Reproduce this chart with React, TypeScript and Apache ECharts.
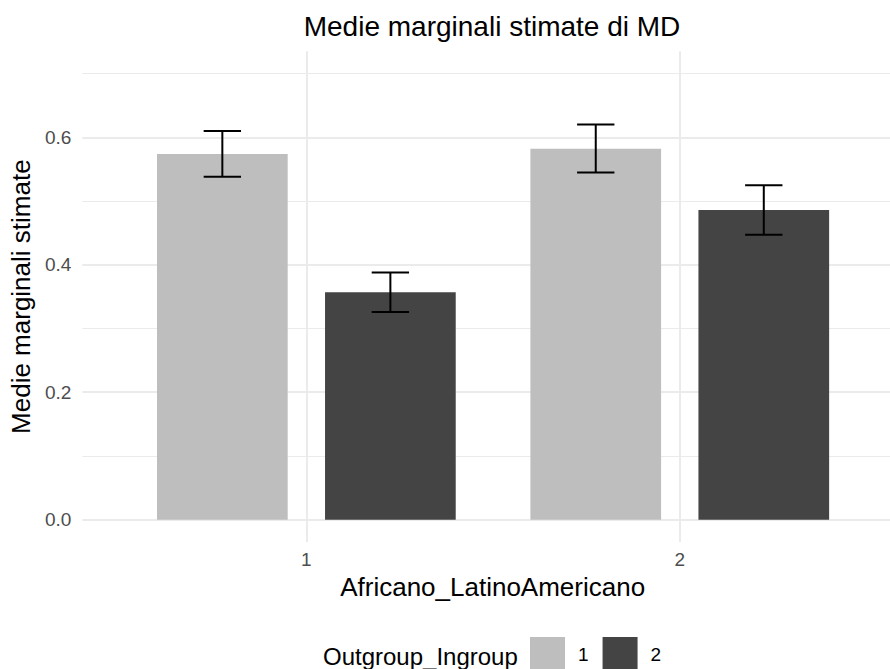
import React, { useEffect, useRef } from "react";
import * as echarts from "echarts";

const categories = ["1", "2"];
const groups = ["1", "2"];
const meanGroup1 = [0.574, 0.582];
const meanGroup2 = [0.357, 0.486];
const lowerGroup1 = [0.538, 0.545];
const upperGroup1 = [0.61, 0.62];
const lowerGroup2 = [0.326, 0.447];
const upperGroup2 = [0.388, 0.525];
const yMajorTicks = [0, 0.2, 0.4, 0.6];
const yMinorTicks = [0.1, 0.3, 0.5, 0.7];
const groupColors = ["#bebebe", "#444444"];

const titleText = "Medie marginali stimate di MD";
const xTitle = "Africano_LatinoAmericano";
const yTitle = "Medie marginali stimate";
const legendTitle = "Outgroup_Ingroup";

const DODGE = 0.225;
const BAR_HALF = 0.175;
const WHISKER_HALF = 0.05;
const FONT = "'Liberation Sans', Arial, Helvetica, sans-serif";

export default function App() {
  const ref = useRef<HTMLDivElement>(null);

  useEffect(() => {
    if (!ref.current) return;
    const chart = echarts.init(ref.current, null, { renderer: "svg" });

    const xPos = (i: number, gi: number) => i + 1 + (gi === 0 ? -DODGE : DODGE);
    const means = [meanGroup1, meanGroup2];
    const lowers = [lowerGroup1, lowerGroup2];
    const uppers = [upperGroup1, upperGroup2];

    const barSeries = groups.map((g, gi) => ({
      type: "custom",
      name: g,
      z: 3,
      itemStyle: { color: groupColors[gi] },
      encode: { x: 0, y: 1 },
      data: means[gi].map((m, i) => [xPos(i, gi), m]),
      renderItem: (_p: any, api: any) => {
        const x = api.value(0);
        const y = api.value(1);
        const a = api.coord([x - BAR_HALF, y]);
        const b = api.coord([x + BAR_HALF, 0]);
        return {
          type: "rect",
          shape: { x: a[0], y: a[1], width: b[0] - a[0], height: b[1] - a[1] },
          style: { fill: groupColors[gi] },
        };
      },
    }));

    const errSeries = groups.map((g, gi) => ({
      type: "custom",
      name: "err" + g,
      z: 4,
      encode: { x: 0, y: [1, 2] },
      data: lowers[gi].map((lo, i) => [xPos(i, gi), lo, uppers[gi][i]]),
      renderItem: (_p: any, api: any) => {
        const x = api.value(0);
        const lo = api.value(1);
        const hi = api.value(2);
        const pLo = api.coord([x, lo]);
        const pHi = api.coord([x, hi]);
        const lL = api.coord([x - WHISKER_HALF, lo]);
        const lR = api.coord([x + WHISKER_HALF, lo]);
        const hL = api.coord([x - WHISKER_HALF, hi]);
        const hR = api.coord([x + WHISKER_HALF, hi]);
        const st = { stroke: "#000000", lineWidth: 2 };
        return {
          type: "group",
          children: [
            { type: "line", shape: { x1: pLo[0], y1: pLo[1], x2: pHi[0], y2: pHi[1] }, style: st },
            { type: "line", shape: { x1: lL[0], y1: lL[1], x2: lR[0], y2: lR[1] }, style: st },
            { type: "line", shape: { x1: hL[0], y1: hL[1], x2: hR[0], y2: hR[1] }, style: st },
          ],
        };
      },
    }));

    const gridSeries = {
      type: "line",
      name: "grid",
      data: [],
      silent: true,
      z: 0,
      markLine: {
        silent: true,
        z: 0,
        symbol: ["none", "none"],
        label: { show: false },
        animation: false,
        data: [
          ...yMinorTicks.map((v) => ({ yAxis: v, lineStyle: { color: "#ebebeb", width: 1, type: "solid" } })),
          ...yMajorTicks.map((v) => ({ yAxis: v, lineStyle: { color: "#ebebeb", width: 2, type: "solid" } })),
          ...categories.map((_c, i) => ({ xAxis: i + 1, lineStyle: { color: "#ebebeb", width: 2, type: "solid" } })),
        ],
      },
    };

    chart.setOption({
      animation: false,
      textStyle: { fontFamily: FONT },
      grid: { left: 81, top: 51.3, right: 0, height: 490.7, containLabel: false },
      xAxis: {
        type: "value",
        min: 0.4,
        max: 2.563,
        splitLine: { show: false },
        axisLine: { show: false },
        axisTick: { show: false },
        axisLabel: {
          customValues: categories.map((_c, i) => i + 1),
          formatter: (v: number) => categories[Math.round(v) - 1] ?? "",
          fontSize: 19,
          color: "#4d4d4d",
          margin: 8,
          fontFamily: FONT,
        },
        name: xTitle,
        nameLocation: "middle",
        nameGap: 30,
        nameTextStyle: { fontSize: 26, color: "#000000", fontFamily: FONT, padding: [0, 0, 0, 13] },
      },
      yAxis: {
        type: "value",
        min: -0.035,
        max: 0.735,
        splitLine: { show: false },
        axisLine: { show: false },
        axisTick: { show: false },
        axisLabel: {
          customValues: yMajorTicks,
          formatter: (v: number) => v.toFixed(1),
          fontSize: 19,
          color: "#4d4d4d",
          margin: 11,
          fontFamily: FONT,
        },
        name: yTitle,
        nameLocation: "middle",
        nameRotate: 90,
        nameGap: 47,
        nameTextStyle: { fontSize: 26, color: "#000000", fontFamily: FONT },
      },
      legend: {
        data: groups,
        left: 530,
        top: 637,
        padding: 0,
        itemWidth: 35,
        itemHeight: 35,
        itemGap: 14,
        icon: "rect",
        selectedMode: false,
        textStyle: { fontSize: 19, color: "#000000", fontFamily: FONT, padding: [0, 0, 0, 8] },
      },
      graphic: [
        {
          type: "text",
          x: 492,
          y: 26,
          style: { text: titleText, fontSize: 28, fill: "#000000", fontFamily: FONT, align: "center", verticalAlign: "middle" },
        },
        {
          type: "text",
          x: 323,
          y: 656,
          style: { text: legendTitle, fontSize: 24, fill: "#000000", fontFamily: FONT, align: "left", verticalAlign: "middle" },
        },
      ],
      series: [gridSeries, ...barSeries, ...errSeries],
    });

    return () => chart.dispose();
  }, []);

  return (
    <div
      ref={ref}
      style={{ position: "fixed", left: 0, top: 0, width: 890, height: 669, background: "#ffffff" }}
    />
  );
}
